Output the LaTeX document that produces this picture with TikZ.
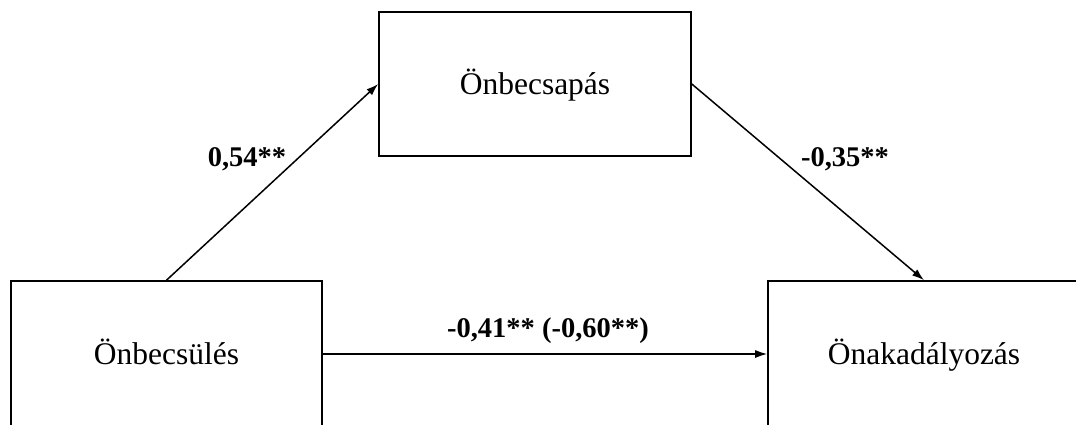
\documentclass[tikz,border=0pt]{standalone}
\usepackage{fontspec}
\setmainfont{Liberation Serif}
\usetikzlibrary{arrows.meta}
\begin{document}
\begin{tikzpicture}[x=1pt,y=-1pt,
  box/.style={draw=black,line width=1.6pt,rectangle,inner sep=0pt,
    font=\fontsize{31.5}{36}\selectfont,text height=27pt,text depth=7pt},
  lab/.style={font=\bfseries\fontsize{28.5}{32}\selectfont,inner sep=0pt,anchor=base},
  arr/.style={line width=1.5pt,-{Latex[length=12pt,width=8pt]}}]
\useasboundingbox (0,0) rectangle (1076,424);
\fill[white] (0,0) rectangle (1076,424);
\clip (0,0) rectangle (1076,424);
\node[box,minimum width=312,minimum height=144] (m) at (535,84) {Önbecsapás};
\node[box,minimum width=311,minimum height=146] (x) at (166.5,354) {Önbecsülés};
\node[box,minimum width=312,minimum height=146] (y) at (924,354) {Önakadályozás};
\draw[arr] (x.north) -- (m.west);
\draw[arr] (m.east) -- (y.north);
\draw[arr] (x.east) -- (y.west);
\node[lab] (l1) at (247,166) {0,54**};
\node[lab] (l2) at (845,166) {-0,35**};
\node[lab] (l3) at (548,337) {-0,41** (-0,60**)};
\end{tikzpicture}
\end{document}
